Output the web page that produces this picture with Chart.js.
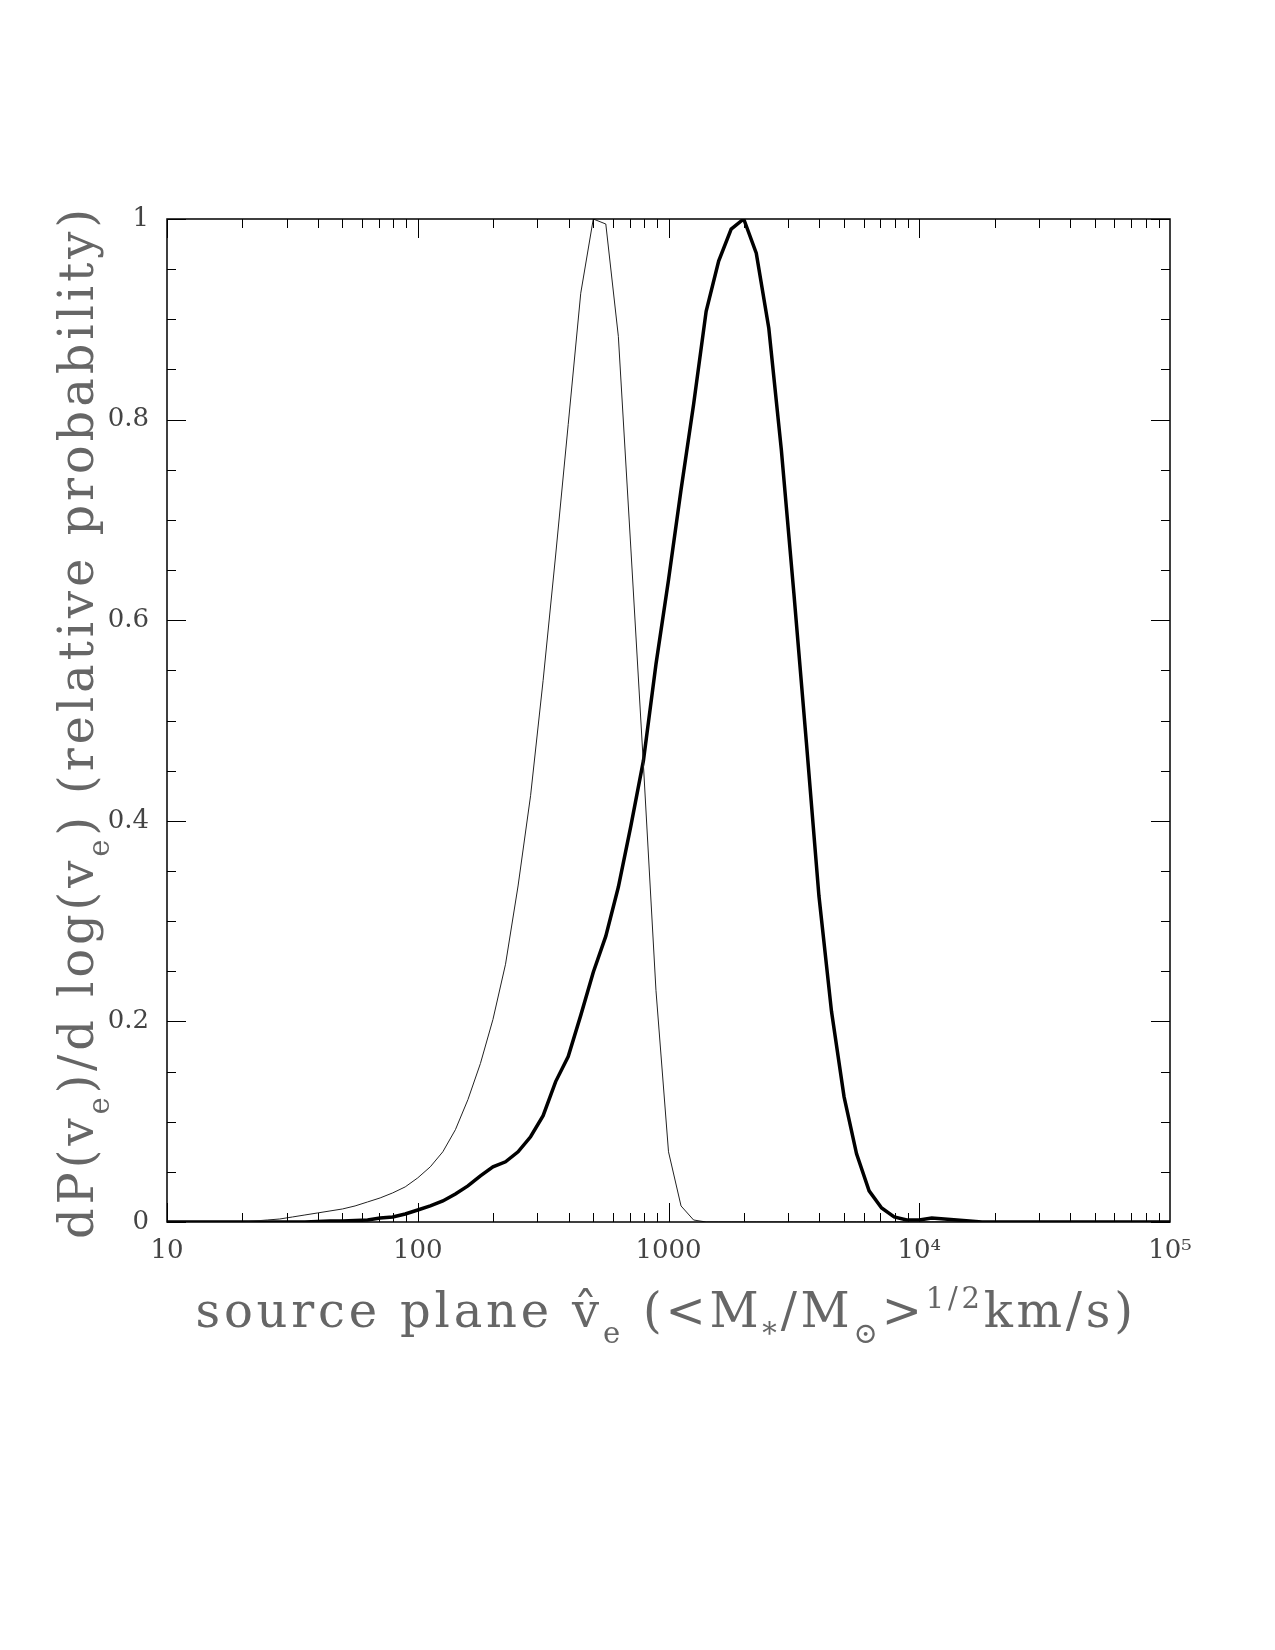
<!DOCTYPE html>
<html>
<head>
<meta charset="utf-8">
<script src="https://cdn.jsdelivr.net/npm/chart.js@4.4.1/dist/chart.umd.min.js"></script>
<style>
  html, body { margin: 0; padding: 0; background: #fff; }
  canvas { display: block; }
</style>
</head>
<body>
<canvas id="chart" width="1275" height="1650"></canvas>
<script>
// source-plane velocity, 0.05 dex steps
const velocity = [
  10, 11.22, 12.59, 14.13, 15.85, 17.78, 19.95, 22.39, 25.12, 28.18,
  31.62, 35.48, 39.81, 44.67, 50.12, 56.23, 63.10, 70.79, 79.43, 89.13,
  100, 112.2, 125.9, 141.3, 158.5, 177.8, 199.5, 223.9, 251.2, 281.8,
  316.2, 354.8, 398.1, 446.7, 501.2, 562.3, 631.0, 707.9, 794.3, 891.3,
  1000, 1122, 1259, 1413, 1585, 1778, 1995, 2239, 2512, 2818,
  3162, 3548, 3981, 4467, 5012, 5623, 6310, 7079, 7943, 8913,
  10000, 11220, 12590, 14130, 15850, 17780, 19950, 22390, 25120, 28180,
  31620, 35480, 39810, 44670, 50120, 56230, 63100, 70790, 79430, 89130,
  100000
];

// thin curve
const thinCurve = [
  0, 0, 0, 0, 0, 0, 0, 0.001, 0.002, 0.003,
  0.005, 0.007, 0.009, 0.011, 0.013, 0.016, 0.020, 0.024, 0.029, 0.035,
  0.044, 0.055, 0.070, 0.092, 0.122, 0.158, 0.202, 0.257, 0.335, 0.425,
  0.540, 0.665, 0.795, 0.926, 1.0, 0.995, 0.883, 0.671, 0.456, 0.231,
  0.070, 0.016, 0.002, 0, 0, 0, 0, 0, 0, 0,
  0, 0, 0, 0, 0, 0, 0, 0, 0, 0,
  0, 0, 0, 0, 0, 0, 0, 0, 0, 0,
  0, 0, 0, 0, 0, 0, 0, 0, 0, 0,
  0
];

// thick curve
const thickCurve = [
  0, 0, 0, 0, 0, 0, 0, 0, 0, 0,
  0, 0, 0.0005, 0.001, 0.001, 0.0015, 0.002, 0.004, 0.005, 0.008,
  0.012, 0.016, 0.021, 0.028, 0.036, 0.046, 0.055, 0.060, 0.070, 0.085,
  0.106, 0.140, 0.165, 0.206, 0.249, 0.285, 0.334, 0.395, 0.460, 0.556,
  0.640, 0.730, 0.815, 0.908, 0.958, 0.990, 1.0, 0.966, 0.891, 0.770,
  0.627, 0.478, 0.325, 0.210, 0.125, 0.068, 0.031, 0.014, 0.005, 0.002,
  0.002, 0.004, 0.003, 0.002, 0.001, 0, 0, 0, 0, 0,
  0, 0, 0, 0, 0, 0, 0, 0, 0, 0,
  0
];

const xTickValues = [10, 100, 1000, 10000, 100000];
const xTickLabels = ['10', '100', '1000', '10\u2074', '10\u2075'];
const yTickValues = [0, 0.2, 0.4, 0.6, 0.8, 1];
const yTickLabels = ['0', '0.2', '0.4', '0.6', '0.8', '1'];

const SERIF = '"DejaVu Serif", "Liberation Serif", serif';

function toPoints(ys) {
  return velocity.map((v, i) => ({ x: v, y: ys[i] }));
}

// draws a run of text pieces (with sub/superscripts), stretched to a given width
function drawRich(ctx, parts, size, cx, baseY, target) {
  const fontFor = p => `${(p.sub || p.sup) ? Math.round(size * 0.6) : size}px ${SERIF}`;
  ctx.letterSpacing = '0px';
  let w = 0, n = 0;
  parts.forEach(p => {
    ctx.font = fontFor(p);
    w += ctx.measureText(p.t).width;
    n += [...p.t].length;
  });
  const sp = Math.max(0, (target - w) / n);
  ctx.letterSpacing = sp.toFixed(2) + 'px';
  let x = cx - target / 2;
  parts.forEach(p => {
    ctx.font = fontFor(p);
    const dy = p.sub ? size * 0.33 : p.sup ? -size * 0.4 : 0;
    ctx.fillText(p.t, x, baseY + dy);
    x += ctx.measureText(p.t).width;
  });
  ctx.letterSpacing = '0px';
}

const frameAndTicks = {
  id: 'frameAndTicks',
  afterDatasetsDraw(chart) {
    const { ctx, chartArea: a } = chart;
    const x = chart.scales.x, y = chart.scales.y;
    ctx.save();
    ctx.strokeStyle = '#000';
    ctx.lineWidth = 1;
    ctx.beginPath();
    for (let d = 10; d < 100000; d *= 10) {
      for (let m = 1; m < 10; m++) {
        const px = Math.round(x.getPixelForValue(m * d)) + 0.5;
        const len = m === 1 ? 19 : 9;
        ctx.moveTo(px, a.bottom); ctx.lineTo(px, a.bottom - len);
        ctx.moveTo(px, a.top); ctx.lineTo(px, a.top + len);
      }
    }
    for (let k = 0; k <= 20; k++) {
      const py = Math.round(y.getPixelForValue(k * 0.05)) + 0.5;
      const len = k % 4 === 0 ? 19 : 9;
      ctx.moveTo(a.left, py); ctx.lineTo(a.left + len, py);
      ctx.moveTo(a.right, py); ctx.lineTo(a.right - len, py);
    }
    ctx.stroke();
    ctx.lineWidth = 1.5;
    ctx.strokeRect(a.left, a.top, a.right - a.left, a.bottom - a.top);
    ctx.restore();
  }
};

const axisTitles = {
  id: 'axisTitles',
  afterDraw(chart) {
    const ctx = chart.ctx;
    ctx.save();
    ctx.fillStyle = '#666';
    ctx.textAlign = 'left';
    ctx.textBaseline = 'alphabetic';

    drawRich(ctx, [
      { t: 'source plane ' }, { t: 'v\u0302' }, { t: 'e', sub: true },
      { t: ' (<M' }, { t: '*', sub: true }, { t: '/M' }, { t: '\u2299', sub: true },
      { t: '>' }, { t: '1/2', sup: true }, { t: 'km/s)' }
    ], 48, 668, 1327, 945);

    ctx.translate(93, 722);
    ctx.rotate(-Math.PI / 2);
    drawRich(ctx, [
      { t: 'dP(v' }, { t: 'e', sub: true }, { t: ')/d log(v' }, { t: 'e', sub: true },
      { t: ') (relative probability)' }
    ], 48, 0, 0, 1034);
    ctx.restore();
  }
};

new Chart(document.getElementById('chart'), {
  type: 'line',
  data: {
    datasets: [
      {
        label: 'thin',
        data: toPoints(thinCurve),
        borderColor: '#222',
        borderWidth: 1,
        pointRadius: 0,
        tension: 0
      },
      {
        label: 'thick',
        data: toPoints(thickCurve),
        borderColor: '#000',
        borderWidth: 3.5,
        pointRadius: 0,
        tension: 0
      }
    ]
  },
  options: {
    responsive: false,
    animation: false,
    devicePixelRatio: 1,
    layout: { padding: { left: 0, top: 219, right: 105, bottom: 368 } },
    plugins: { legend: { display: false }, tooltip: { enabled: false } },
    scales: {
      x: {
        type: 'logarithmic',
        min: 10,
        max: 100000,
        grid: { display: false, drawTicks: false },
        border: { display: false },
        afterBuildTicks: s => { s.ticks = xTickValues.map(v => ({ value: v })); },
        afterFit: s => { s.height = 60; },
        ticks: {
          autoSkip: false,
          maxRotation: 0,
          padding: 14,
          color: '#444',
          font: { family: SERIF, size: 26 },
          callback: (v, i) => xTickLabels[i]
        }
      },
      y: {
        type: 'linear',
        min: 0,
        max: 1,
        grid: { display: false, drawTicks: false },
        border: { display: false },
        afterBuildTicks: s => { s.ticks = yTickValues.map(v => ({ value: v })); },
        afterFit: s => { s.width = 167; },
        ticks: {
          autoSkip: false,
          padding: 18,
          color: '#444',
          font: { family: SERIF, size: 26 },
          callback: (v, i) => yTickLabels[i]
        }
      }
    }
  },
  plugins: [frameAndTicks, axisTitles]
});
</script>
</body>
</html>
